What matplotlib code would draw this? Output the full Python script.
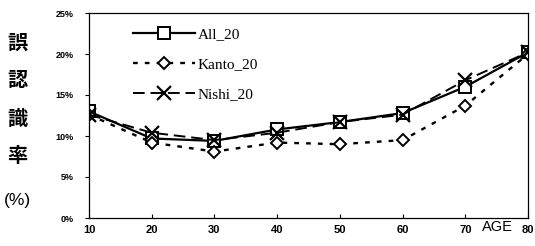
import matplotlib
matplotlib.use("Agg")
import matplotlib.pyplot as plt
from matplotlib.ticker import PercentFormatter

ages = [10, 20, 30, 40, 50, 60, 70, 80]
all_20 = [13.0, 9.7, 9.4, 10.8, 11.7, 12.8, 16.0, 20.2]
kanto_20 = [12.6, 9.2, 8.1, 9.2, 9.0, 9.5, 13.7, 20.0]
nishi_20 = [12.6, 10.4, 9.5, 10.4, 11.7, 12.6, 16.8, 20.2]
yticks = [0, 5, 10, 15, 20, 25]

fig = plt.figure(figsize=(5.35, 2.46), dpi=100)
ax = fig.add_axes([89 / 535, 28 / 246, 439 / 535, 205 / 246])

ax.plot(ages, all_20, "k-", marker="s", ms=9, mfc="white", mec="k", mew=1.4,
        lw=1.6, label="All_20")
ax.plot(ages, kanto_20, "k", ls=(0, (2, 3)), marker="D", ms=6.5, mfc="white",
        mec="k", mew=1.4, lw=1.7, label="Kanto_20")
ax.plot(ages, nishi_20, "k", ls=(0, (6, 3)), marker="x", ms=10, mew=1.6,
        lw=1.4, label="Nishi_20")

ax.set_xlim(10, 80)
ax.set_ylim(0, 25)
ax.set_xticks(ages)
ax.set_yticks(yticks)
ax.yaxis.set_major_formatter(PercentFormatter(decimals=0))
ax.tick_params(axis="x", direction="in", length=3, pad=5)
ax.tick_params(axis="y", direction="out", length=3, pad=8)
for lab in ax.get_xticklabels():
    lab.set_fontsize(8)
    lab.set_fontweight("bold")
    lab.set_family("Liberation Sans")
for lab in ax.get_yticklabels():
    lab.set_fontsize(6.5)
    lab.set_fontweight("bold")
    lab.set_family("Liberation Sans")
for s in ax.spines.values():
    s.set_linewidth(0.9)

ax.legend(loc="upper left", bbox_to_anchor=(0.07, 0.995), frameon=False,
          prop={"family": "Liberation Serif", "size": 11},
          handlelength=4.0, labelspacing=1.05, handletextpad=0.2)

# vertical Japanese axis label
for ch, y in zip(["誤", "認", "識", "率"], [42, 80, 118, 156]):
    fig.text(17 / 535, 1 - y / 246, ch, ha="center", va="center",
             fontsize=14.5, fontweight="bold", family="Noto Sans CJK JP")
fig.text(17 / 535, 1 - 200 / 246, "(%)", ha="center", va="center",
         fontsize=12.5, family="Liberation Sans")

fig.text(497 / 535, 1 - 227 / 246, "AGE", ha="center", va="center",
         fontsize=10.5, family="Liberation Sans")

fig.savefig("out.png", dpi=100)
